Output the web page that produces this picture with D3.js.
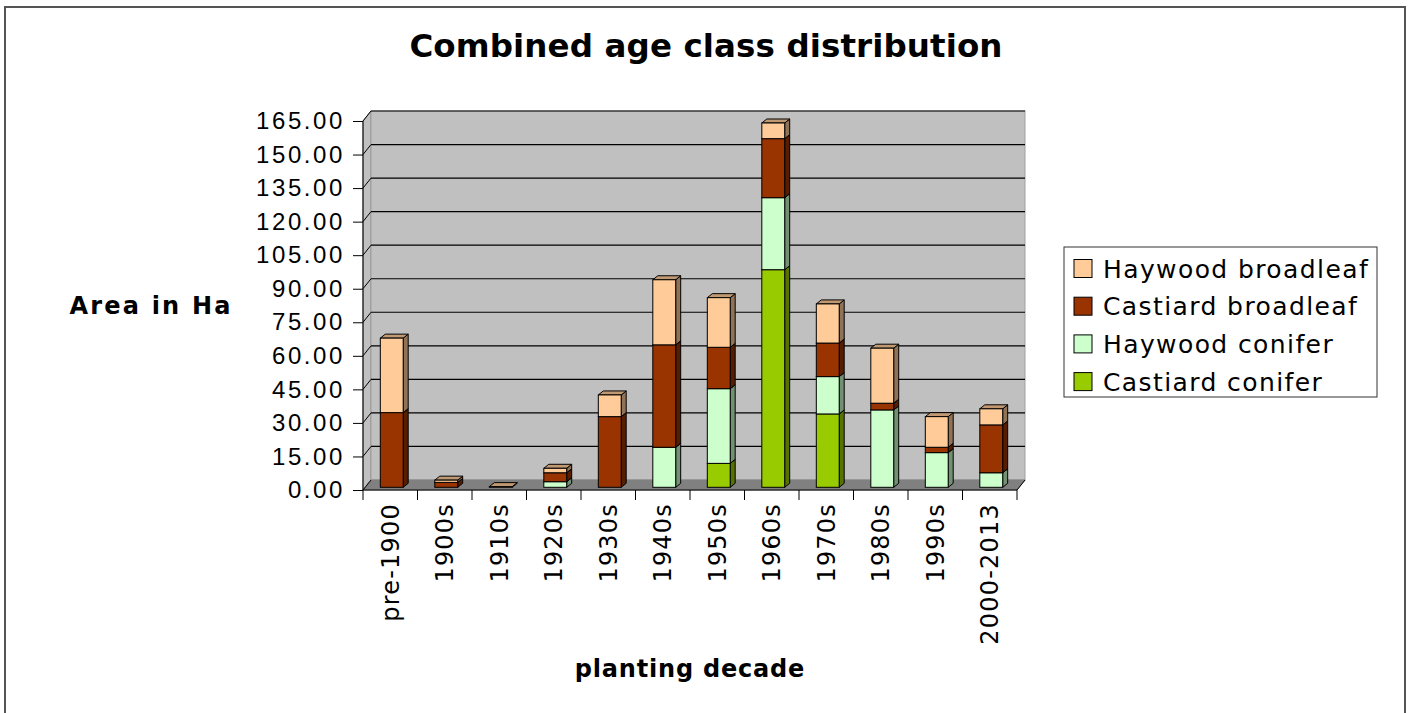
<!DOCTYPE html>
<html>
<head>
<meta charset="utf-8">
<script src="https://cdn.jsdelivr.net/npm/d3@7"></script>
<style>
  body { margin: 0; background: #fff; }
  svg { display: block; font-family: "DejaVu Sans", Verdana, sans-serif; }
</style>
</head>
<body>
<script>
var categories = ["pre-1900", "1900s", "1910s", "1920s", "1930s", "1940s",
  "1950s", "1960s", "1970s", "1980s", "1990s", "2000-2013"];
// stacked bottom -> top
var castiardConifer   = [0, 0, 0, 0, 0, 0, 10.7, 97.3, 32.8, 0, 0, 0];
var haywoodConifer    = [0, 0, 0, 2.5, 0, 17.9, 33.4, 32.2, 16.7, 34.6, 15.5, 6.5];
var castiardBroadleaf = [33.4, 2.2, 0, 4.0, 31.6, 45.8, 18.5, 26.4, 15.0, 3.0, 2.4, 21.4];
var haywoodBroadleaf  = [33.3, 1.0, 0.3, 2.0, 9.7, 29.1, 22.2, 7.0, 17.5, 24.6, 13.7, 7.2];
var seriesNames = ["Castiard conifer", "Haywood conifer", "Castiard broadleaf", "Haywood broadleaf"];
var seriesColors = ["#99cc00", "#ccffcc", "#993300", "#ffcc99"];
var yTicks = [0, 15, 30, 45, 60, 75, 90, 105, 120, 135, 150, 165];

var W = 1410, H = 713;
var pLeft = 363, pRight = 1017, pBottom = 490, pTop = 121;
var dx = 8, dy = -10;       // wall depth
var bdx = 5, bdy = -4;      // bar depth
var bsx = 1.5, bsy = -2.7;  // bar offset into the floor

var svg = d3.select("body").append("svg").attr("width", W).attr("height", H);

// outer frame
svg.append("path").attr("d", "M5,713 V7 H1405 V713")
  .attr("fill", "none").attr("stroke", "#555").attr("stroke-width", 2);

svg.append("text").attr("x", 706).attr("y", 57).attr("text-anchor", "middle")
  .style("font-size", "32.5px").style("font-weight", "bold").style("letter-spacing", "0.1px")
  .text("Combined age class distribution");

var x = d3.scaleBand().domain(categories).range([pLeft, pRight])
  .paddingInner(0.58).paddingOuter(0.29);
var y = d3.scaleLinear().domain([0, 165]).range([pBottom, pTop]);

// walls
svg.append("polygon")
  .attr("points", [[pLeft, pBottom], [pLeft + dx, pBottom + dy], [pLeft + dx, pTop + dy], [pLeft, pTop]].join(" "))
  .attr("fill", "#c0c0c0").attr("stroke", "#808080");
svg.append("rect").attr("x", pLeft + dx).attr("y", pTop + dy)
  .attr("width", pRight - pLeft).attr("height", pBottom - pTop)
  .attr("fill", "#c0c0c0").attr("stroke", "#a0a0a0");
svg.append("polygon")
  .attr("points", [[pLeft, pBottom], [pRight, pBottom], [pRight + dx, pBottom + dy], [pLeft + dx, pBottom + dy]].join(" "))
  .attr("fill", "#808080").attr("stroke", "#808080");

// gridlines on back wall + diagonal connectors
yTicks.slice(1).forEach(function (t) {
  svg.append("line").attr("x1", pLeft + dx).attr("x2", pRight + dx)
    .attr("y1", y(t) + dy).attr("y2", y(t) + dy).attr("stroke", "#000").attr("stroke-width", 1.2);
});
yTicks.forEach(function (t) {
  svg.append("line").attr("x1", pLeft).attr("y1", y(t)).attr("x2", pLeft + dx).attr("y2", y(t) + dy)
    .attr("stroke", "#000");
});

// axes
var yAxis = svg.append("g").attr("transform", "translate(" + pLeft + ",0)")
  .call(d3.axisLeft(y).tickValues(yTicks).tickSize(10).tickPadding(8).tickFormat(d3.format(".2f")));
yAxis.select(".domain").attr("d", "M0," + y(165) + "V" + pBottom);
yAxis.selectAll("text").style("font-size", "24px").style("letter-spacing", "2.6px").attr("fill", "#000");

var xTickPos = categories.map(function (c) { return x(c) - x.step() * 0.29; }).concat([pRight]);
var xg = svg.append("g");
xg.append("line").attr("x1", pLeft).attr("x2", pRight).attr("y1", pBottom).attr("y2", pBottom).attr("stroke", "#000");
xg.selectAll("line.tk").data(xTickPos).enter().append("line").attr("class", "tk")
  .attr("x1", function (d) { return d; }).attr("x2", function (d) { return d; })
  .attr("y1", pBottom).attr("y2", pBottom + 10).attr("stroke", "#000");
svg.append("line").attr("x1", pRight).attr("y1", pBottom).attr("x2", pRight + dx).attr("y2", pBottom + dy)
  .attr("stroke", "#000");
xg.selectAll("text").data(categories).enter().append("text")
  .attr("transform", function (d) { return "translate(" + (x(d) + x.bandwidth() / 2) + "," + 503 + ") rotate(-90)"; })
  .attr("text-anchor", "end").attr("dy", "0.36em")
  .style("font-size", "24px").style("letter-spacing", "1.2px")
  .text(function (d) { return d; });

// stacked 3D bars
var table = categories.map(function (c, i) {
  return { cat: c, "Castiard conifer": castiardConifer[i], "Haywood conifer": haywoodConifer[i],
    "Castiard broadleaf": castiardBroadleaf[i], "Haywood broadleaf": haywoodBroadleaf[i] };
});
var stack = d3.stack().keys(seriesNames)(table);
var bw = x.bandwidth();
categories.forEach(function (c, i) {
  var g = svg.append("g");
  stack.forEach(function (layer, k) {
    var v0 = layer[i][0], v1 = layer[i][1];
    if (v1 - v0 <= 0) return;
    var col = d3.color(seriesColors[k]);
    var x0 = x(c) + bsx, x1 = x0 + bw;
    var yb = y(v0) + bsy, yt = y(v1) + bsy;
    g.append("polygon")
      .attr("points", [[x1, yb], [x1 + bdx, yb + bdy], [x1 + bdx, yt + bdy], [x1, yt]].join(" "))
      .attr("fill", col.darker(1.6)).attr("stroke", "#000").attr("stroke-linejoin", "round");
    g.append("polygon")
      .attr("points", [[x0, yt], [x1, yt], [x1 + bdx, yt + bdy], [x0 + bdx, yt + bdy]].join(" "))
      .attr("fill", col.darker(0.8)).attr("stroke", "#000").attr("stroke-linejoin", "round");
    g.append("rect").attr("x", x0).attr("y", yt).attr("width", bw).attr("height", yb - yt)
      .attr("fill", seriesColors[k]).attr("stroke", "#000");
  });
});

// axis titles
svg.append("text").attr("x", 151).attr("y", 314).attr("text-anchor", "middle")
  .style("font-size", "24px").style("font-weight", "bold").style("letter-spacing", "2.2px")
  .text("Area in Ha");
svg.append("text").attr("x", 690).attr("y", 677).attr("text-anchor", "middle")
  .style("font-size", "24px").style("font-weight", "bold").style("letter-spacing", "0.8px")
  .text("planting decade");

// legend
var lg = svg.append("g").attr("transform", "translate(1064,247)");
lg.append("rect").attr("width", 313).attr("height", 150).attr("fill", "#fff").attr("stroke", "#333");
seriesNames.slice().reverse().forEach(function (name, i) {
  var k = seriesNames.indexOf(name);
  var row = lg.append("g").attr("transform", "translate(0," + (21.5 + i * 37.7) + ")");
  row.append("rect").attr("x", 10).attr("y", -9).attr("width", 18).attr("height", 18)
    .attr("fill", seriesColors[k]).attr("stroke", "#000");
  row.append("text").attr("x", 39).attr("dy", "0.36em")
    .style("font-size", "25px").style("letter-spacing", "1.4px").text(name);
});
</script>
</body>
</html>
